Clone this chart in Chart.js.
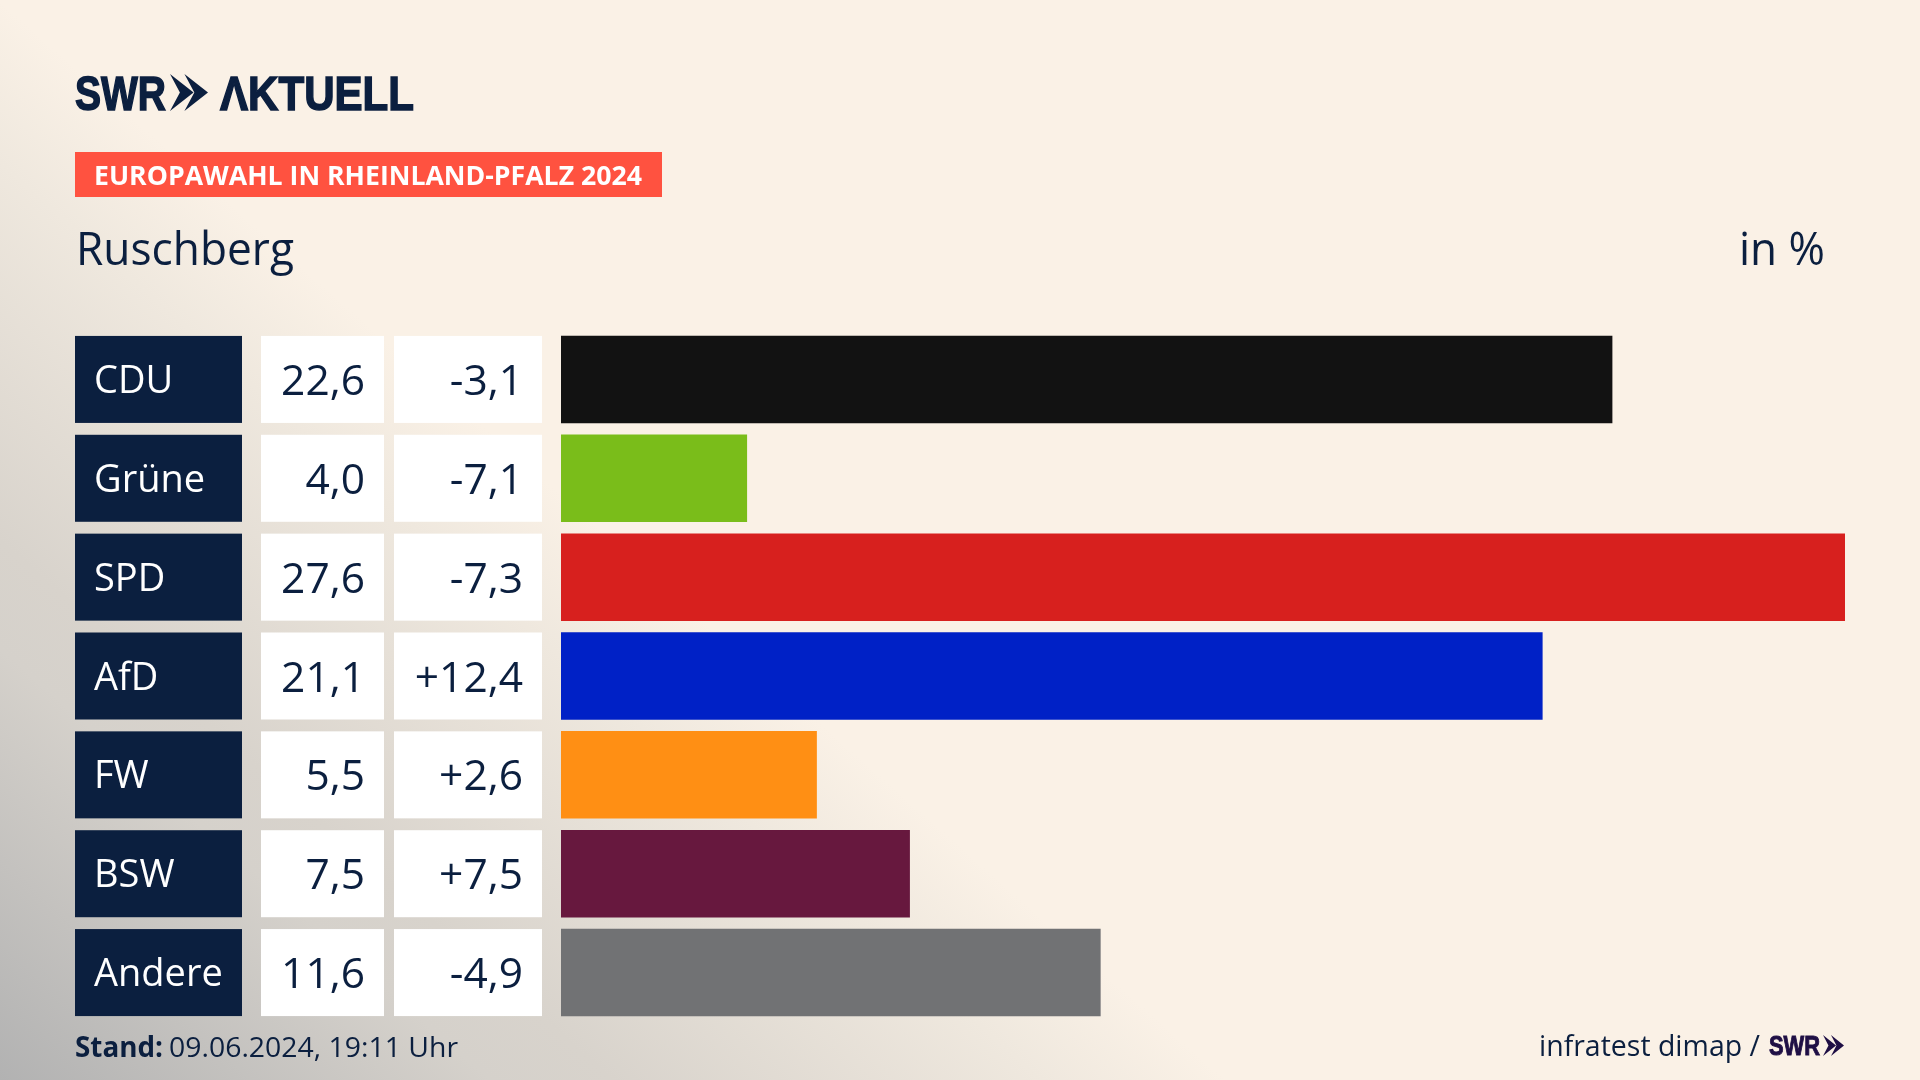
<!DOCTYPE html>
<html lang="de">
<head>
<meta charset="utf-8">
<title>Europawahl in Rheinland-Pfalz 2024 - Ruschberg</title>
<script src="https://cdn.jsdelivr.net/npm/chart.js@4"></script>
<style>
  html, body { margin: 0; padding: 0; background: #faf1e6; }
  canvas { display: block; }
</style>
</head>
<body>
<canvas id="chart" width="1920" height="1080"></canvas>
<script>
const parties = ['CDU', 'Grüne', 'SPD', 'AfD', 'FW', 'BSW', 'Andere'];
const shares = [22.6, 4.0, 27.6, 21.1, 5.5, 7.5, 11.6];
const changes = [-3.1, -7.1, -7.3, 12.4, 2.6, 7.5, -4.9];
const barColors = ['#121212', '#7abd1a', '#d7201e', '#0021c6', '#ff8f14', '#67183e', '#717274'];

const navy = '#0b1f3f';
const fontName = '"Open Sans", sans-serif';
const narrowName = '"Liberation Sans Narrow", "Liberation Sans", sans-serif';

function fmt(v, signed) {
    const s = Math.abs(v).toFixed(1).replace('.', ',');
    if (v < 0) return '-' + s;
    return signed ? '+' + s : s;
}

// squeezes a text horizontally so it covers the width seen in the picture
function fitText(ctx, text, x, y, width, font, color, weight) {
    ctx.save();
    ctx.font = font;
    ctx.fillStyle = color;
    ctx.textAlign = 'left';
    ctx.textBaseline = 'alphabetic';
    const w = ctx.measureText(text).width;
    ctx.translate(x, y);
    ctx.scale(width / w, 1);
    ctx.fillText(text, 0, 0);
    if (weight) {
        ctx.strokeStyle = color;
        ctx.lineWidth = weight;
        ctx.strokeText(text, 0, 0);
    }
    ctx.restore();
}

function chevrons(ctx, x, y, w, h, color) {
    ctx.fillStyle = color;
    const cw = w * 0.62;
    [0, w - cw].forEach(dx => {
        ctx.beginPath();
        ctx.moveTo(x + dx, y);
        ctx.lineTo(x + dx + cw, y + h / 2);
        ctx.lineTo(x + dx, y + h);
        ctx.lineTo(x + dx + cw * 0.42, y + h / 2);
        ctx.closePath();
        ctx.fill();
    });
}

const backdrop = {
    id: 'backdrop',
    beforeDraw(chart) {
        const ctx = chart.ctx;
        const yScale = chart.scales.y;
        ctx.save();

        // grey glow running diagonally out of the lower left corner
        const glow = ctx.createLinearGradient(0, 1080, 535, 472);
        glow.addColorStop(0, '#b2b2b2');
        glow.addColorStop(0.4, '#d5d1cb');
        glow.addColorStop(0.5, '#d8d3cc');
        glow.addColorStop(0.85, '#efe8de');
        glow.addColorStop(1, '#faf1e6');
        ctx.fillStyle = glow;
        ctx.fillRect(0, 0, 1920, 1080);

        // table cells left of the bars
        parties.forEach((p, i) => {
            const cy = yScale.getPixelForValue(i);
            const top = cy - 43.5;
            ctx.fillStyle = navy;
            ctx.fillRect(75, top, 167, 87);
            ctx.fillStyle = '#ffffff';
            ctx.fillRect(261, top, 123, 87);
            ctx.fillRect(394, top, 148, 87);
        });
        ctx.restore();
    },
    afterDraw(chart) {
        const ctx = chart.ctx;
        const yScale = chart.scales.y;
        ctx.save();

        // logo line
        fitText(ctx, 'SWR', 75, 110, 91, 'bold 48px ' + narrowName, navy, 1.5);
        chevrons(ctx, 170, 74, 38, 37, navy);
        fitText(ctx, 'ΛKTUELL', 220, 110, 194, 'bold 48px ' + narrowName, navy, 1.5);

        // red badge
        ctx.fillStyle = '#ff5240';
        ctx.fillRect(75, 152, 587, 45);
        fitText(ctx, 'EUROPAWAHL IN RHEINLAND-PFALZ 2024', 94, 185, 548, 'bold 27px ' + fontName, '#ffffff');

        // headline
        fitText(ctx, 'Ruschberg', 76, 265, 218, '46px ' + fontName, navy);
        fitText(ctx, 'in %', 1739, 265, 86, '46px ' + fontName, navy);

        // table text
        ctx.textBaseline = 'alphabetic';
        parties.forEach((p, i) => {
            const center = yScale.getPixelForValue(i);
            ctx.fillStyle = '#ffffff';
            ctx.font = '38px ' + fontName;
            ctx.textAlign = 'left';
            ctx.fillText(yScale.getLabelForValue(i), 94, center + 13.5);
            ctx.fillStyle = navy;
            ctx.font = '42.5px ' + fontName;
            ctx.textAlign = 'right';
            ctx.fillText(fmt(shares[i], false), 365, center + 15.5);
            ctx.fillText(fmt(changes[i], true), 523, center + 15.5);
        });

        // footer
        fitText(ctx, 'Stand:', 75, 1057, 88, 'bold 28px ' + fontName, navy);
        fitText(ctx, '09.06.2024, 19:11 Uhr', 169, 1057, 289, '28px ' + fontName, navy);
        fitText(ctx, 'infratest dimap /', 1539, 1056, 221, '29px ' + fontName, navy);
        fitText(ctx, 'SWR', 1769, 1055, 51, 'bold 28px ' + narrowName, '#1f0f45', 1);
        chevrons(ctx, 1823, 1035, 21, 21, '#1f0f45');
        ctx.restore();
    }
};

new Chart(document.getElementById('chart').getContext('2d'), {
    type: 'bar',
    data: {
        labels: parties,
        datasets: [{
            data: shares,
            backgroundColor: barColors,
            borderWidth: 0,
            barPercentage: 0.885,
            categoryPercentage: 1
        }]
    },
    options: {
        indexAxis: 'y',
        responsive: false,
        animation: false,
        devicePixelRatio: 1,
        layout: { padding: { top: 330, bottom: 58, left: 94, right: 75 } },
        plugins: { legend: { display: false }, title: { display: false }, tooltip: { enabled: false } },
        scales: {
            x: { display: false, min: 0, max: 27.6 },
            y: {
                afterFit(scale) { scale.width = 467; },
                border: { display: false },
                grid: { display: false, drawTicks: false },
                ticks: { display: false }
            }
        }
    },
    plugins: [backdrop]
});
</script>
</body>
</html>
